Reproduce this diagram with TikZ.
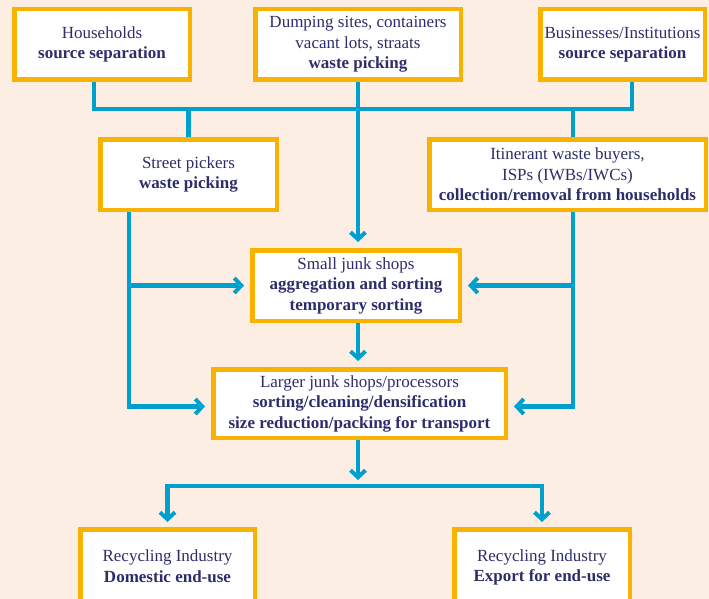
\documentclass[tikz,border=0pt]{standalone}
\usepackage{fontspec}
\setmainfont{Liberation Serif}
\usetikzlibrary{arrows.meta}
\definecolor{peach}{HTML}{FDEEE3}
\definecolor{boxorange}{HTML}{F9B200}
\definecolor{flowblue}{HTML}{00A0CE}
\definecolor{inkblue}{HTML}{2E2D6B}
\tikzset{
  box/.style={draw=boxorange, line width=4.5pt, fill=white, align=center, text=inkblue,
    inner sep=0pt, minimum height=70.5pt, font=\fontsize{17}{20.5}\selectfont},
  link/.style={draw=flowblue, line width=4.5pt},
  flow/.style={link, -{Straight Barb[length=7pt,width=15pt,line width=4pt]}, shorten >=6pt},
  fork/.style={link, {Straight Barb[length=7pt,width=15pt,line width=4pt]}-{Straight Barb[length=7pt,width=15pt,line width=4pt]},
    shorten <=5pt, shorten >=5pt}
}
\begin{document}
\begin{tikzpicture}[x=1pt,y=-1pt]
\fill[peach] (0,0) rectangle (709,599);
\useasboundingbox (0,0) rectangle (709,599);
\node[box,minimum width=175.5pt] (hh) at (102,44.5) {Households\\\textbf{source separation}};
\node[box,minimum width=205.5pt] (dump) at (358,44.5) {Dumping sites, containers\\vacant lots, straats\\\textbf{waste picking}};
\node[box,minimum width=164.5pt] (biz) at (622.5,44.5) {Businesses/Institutions\\\textbf{source separation}};
\node[box,minimum width=176.5pt] (street) at (188.5,174.5) {Street pickers\\\textbf{waste picking}};
\node[box,minimum width=276.5pt] (iwb) at (567.5,174.5) {Itinerant waste buyers,\\ISPs (IWBs/IWCs)\\\textbf{collection/removal from households}};
\node[box,minimum width=207.5pt] (small) at (356,285.5) {Small junk shops\\\textbf{aggregation and sorting}\\\textbf{temporary sorting}};
\node[box,minimum width=292.5pt,minimum height=68.5pt] (large) at (359.5,403.5) {Larger junk shops/processors\\\textbf{sorting/cleaning/densification}\\\textbf{size reduction/packing for transport}};
\node[box,minimum width=174.5pt,minimum height=73.5pt] (dom) at (167.5,566) {Recycling Industry\\\textbf{Domestic end-use}};
\node[box,minimum width=175.5pt,minimum height=73.5pt,text depth=1pt] (exp) at (542,566) {Recycling Industry\\\textbf{Export for end-use}};

\coordinate (bus) at (358,109);
\coordinate (split) at (358,486);
\coordinate (sp) at ([xshift=-59.5pt]street.south);
\coordinate (ib) at ([xshift=5.5pt]iwb.south);

\draw[link] ([xshift=-8pt]hh.south) |- (bus) -| ([xshift=9.5pt]biz.south);
\draw[link] (street.north) -- (street.north |- bus);
\draw[link] (ib |- iwb.north) -- (ib |- bus);
\draw[flow] (dump.south) -- (dump.south |- small.north);
\draw[flow] (sp) |- ([yshift=-3pt]large.west);
\draw[flow] (sp |- small.west) -- (small.west);
\draw[flow] (ib) |- ([yshift=-3pt]large.east);
\draw[flow] (ib |- small.east) -- (small.east);
\draw[flow] (dump.south |- small.south) -- (dump.south |- large.north);
\draw[flow] (split |- large.south) -- (split);
\draw[fork] (dom.north) |- (split) -| (exp.north);
\end{tikzpicture}
\end{document}
